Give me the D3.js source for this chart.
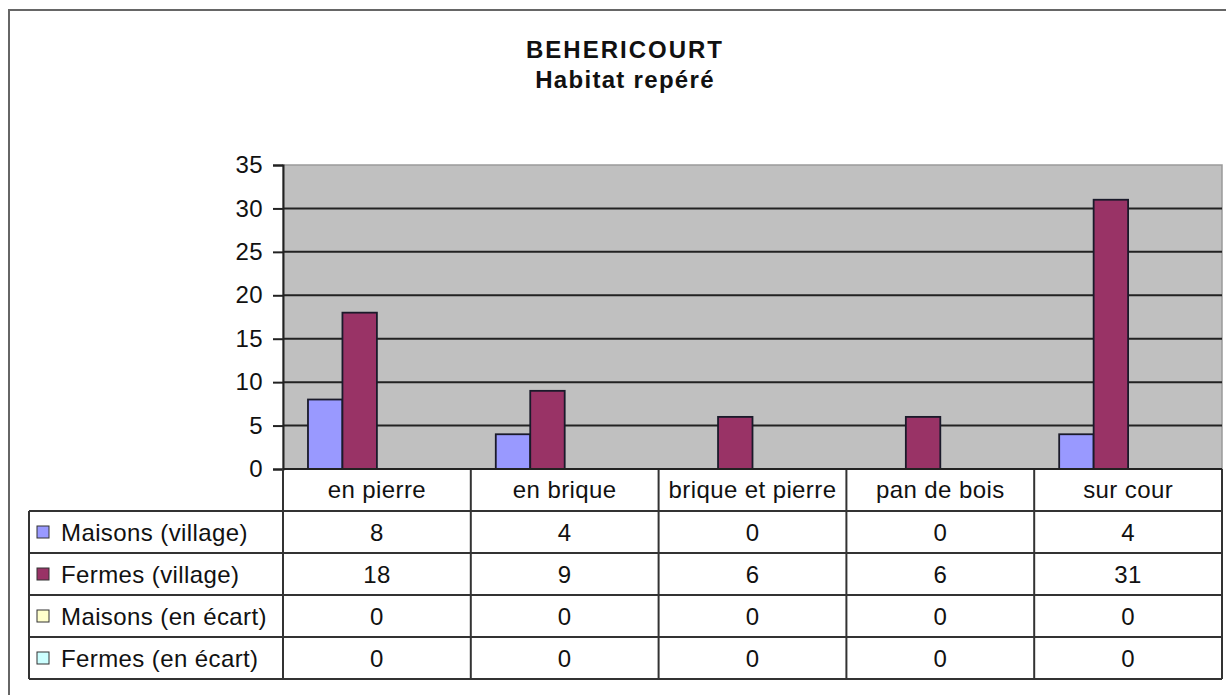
<!DOCTYPE html>
<html>
<head>
<meta charset="utf-8">
<script src="https://cdn.jsdelivr.net/npm/d3@7"></script>
<style>
  body { margin: 0; background: #fff; }
  text { font-family: "Liberation Sans", Arial, sans-serif; fill: #111; }
</style>
</head>
<body>
<div id="wrapper"></div>
<script>
var categories = ["en pierre", "en brique", "brique et pierre", "pan de bois", "sur cour"];
var seriesNames = ["Maisons (village)", "Fermes (village)", "Maisons (en écart)", "Fermes (en écart)"];
var maisonsVillage = [8, 4, 0, 0, 4];
var fermesVillage = [18, 9, 6, 6, 31];
var maisonsEcart = [0, 0, 0, 0, 0];
var fermesEcart = [0, 0, 0, 0, 0];
var yTicks = [0, 5, 10, 15, 20, 25, 30, 35];
var seriesColors = ["#9999ff", "#993366", "#ffffcc", "#ccffff"];

var allSeries = [maisonsVillage, fermesVillage, maisonsEcart, fermesEcart];

function draw(){
    const parent = d3.select("#wrapper")
    parent.selectAll('*').remove()

    var width = 1226;
    var height = 695;
    var left = 283, right = 1222, top = 165, bottom = 469;
    var rowH = 42;
    var legendLeft = 29;
    var fs = "24px", ls = "0.4px";

    var svg = parent.append("svg")
        .attr("width", width)
        .attr("height", height)

    // outer chart frame
    svg.append("rect")
        .attr("x", 9).attr("y", 10)
        .attr("width", 1260).attr("height", 720)
        .attr("fill", "#fff")
        .attr("stroke", "#666")
        .attr("stroke-width", 2)

    // title
    svg.append("text")
        .attr("x", 625).attr("y", 58)
        .attr("text-anchor", "middle")
        .style("font-size", "24px").style("font-weight", "bold")
        .style("letter-spacing", "2px")
        .text("BEHERICOURT")
    svg.append("text")
        .attr("x", 625).attr("y", 88)
        .attr("text-anchor", "middle")
        .style("font-size", "24px").style("font-weight", "bold")
        .style("letter-spacing", "1.3px")
        .text("Habitat repéré")

    var x0 = d3.scaleBand()
        .domain(categories)
        .range([left, right])
    var x1 = d3.scaleBand()
        .domain(d3.range(seriesNames.length))
        .range([0, x0.bandwidth()])
        .paddingOuter(0.725)
    var y = d3.scaleLinear()
        .domain([0, 35])
        .range([bottom, top])

    // plot area
    svg.append("rect")
        .attr("x", left).attr("y", top)
        .attr("width", right - left).attr("height", bottom - top)
        .attr("fill", "#c0c0c0")
        .attr("stroke", "#9a9a9a")
        .attr("stroke-width", 1.5)

    // gridlines
    svg.append("g")
        .selectAll("line")
        .data(yTicks.filter(function(d){ return d > 0 && d < 35 }))
        .enter().append("line")
        .attr("x1", left).attr("x2", right)
        .attr("y1", function(d){ return y(d) }).attr("y2", function(d){ return y(d) })
        .attr("stroke", "#222")
        .attr("stroke-width", 2)

    // bars
    var groups = svg.append("g")
        .selectAll("g")
        .data(categories)
        .enter().append("g")
        .attr("transform", function(d){ return "translate(" + x0(d) + ",0)" })
    groups.selectAll("rect")
        .data(function(d, i){ return allSeries.map(function(s, j){ return {s: j, v: s[i]} }) })
        .enter().append("rect")
        .filter(function(d){ return d.v > 0 })
        .attr("x", function(d){ return x1(d.s) })
        .attr("y", function(d){ return y(d.v) })
        .attr("width", x1.bandwidth())
        .attr("height", function(d){ return y(0) - y(d.v) })
        .attr("fill", function(d){ return seriesColors[d.s] })
        .attr("stroke", "#1a1a2a")
        .attr("stroke-width", 1.8)

    // y axis
    var yAxis = d3.axisLeft(y)
        .tickValues(yTicks)
        .tickSize(10)
        .tickPadding(10)
    var ax = svg.append("g")
        .attr("transform", "translate(" + left + ",0)")
        .call(yAxis)
    ax.select(".domain").attr("stroke", "#222").attr("stroke-width", 2)
    ax.selectAll(".tick line").attr("stroke", "#222").attr("stroke-width", 2)
    ax.selectAll(".tick text")
        .style("font-size", fs)
        .style("letter-spacing", ls)
        .style("font-family", "Liberation Sans, Arial, sans-serif")
        .attr("fill", "#111")

    // data table
    var table = svg.append("g")
    var tableBottom = bottom + rowH * 5

    // vertical lines
    table.selectAll(".vline")
        .data(categories.map(function(c){ return x0(c) }).concat([right]))
        .enter().append("line")
        .attr("x1", function(d){ return d }).attr("x2", function(d){ return d })
        .attr("y1", bottom).attr("y2", tableBottom)
        .attr("stroke", "#333").attr("stroke-width", 2)
    table.append("line")
        .attr("x1", legendLeft).attr("x2", legendLeft)
        .attr("y1", bottom + rowH).attr("y2", tableBottom)
        .attr("stroke", "#333").attr("stroke-width", 2)

    // horizontal lines
    table.append("line")
        .attr("x1", left).attr("x2", right)
        .attr("y1", bottom).attr("y2", bottom)
        .attr("stroke", "#222").attr("stroke-width", 2)
    table.selectAll(".hline")
        .data(d3.range(1, 6))
        .enter().append("line")
        .attr("x1", legendLeft).attr("x2", right)
        .attr("y1", function(d){ return bottom + d * rowH })
        .attr("y2", function(d){ return bottom + d * rowH })
        .attr("stroke", "#333").attr("stroke-width", 2)

    // category header
    table.selectAll(".cat")
        .data(categories)
        .enter().append("text")
        .attr("x", function(d){ return x0(d) + x0.bandwidth() / 2 })
        .attr("y", bottom + rowH / 2 + 8)
        .attr("text-anchor", "middle")
        .style("font-size", fs).style("letter-spacing", ls)
        .text(function(d){ return d })

    // rows
    seriesNames.forEach(function(name, j){
        var ry = bottom + rowH * (j + 1)
        table.append("rect")
            .attr("x", 37).attr("y", ry + rowH / 2 - 6)
            .attr("width", 12).attr("height", 12)
            .attr("fill", seriesColors[j])
            .attr("stroke", "#333").attr("stroke-width", 1)
        table.append("text")
            .attr("x", 61).attr("y", ry + rowH / 2 + 9)
            .style("font-size", fs).style("letter-spacing", ls)
            .text(name)
        table.selectAll(".v" + j)
            .data(allSeries[j])
            .enter().append("text")
            .attr("x", function(d, i){ return x0(categories[i]) + x0.bandwidth() / 2 })
            .attr("y", ry + rowH / 2 + 9)
            .attr("text-anchor", "middle")
            .style("font-size", fs).style("letter-spacing", ls)
            .text(function(d){ return d })
    })
}
draw()
</script>
</body>
</html>
